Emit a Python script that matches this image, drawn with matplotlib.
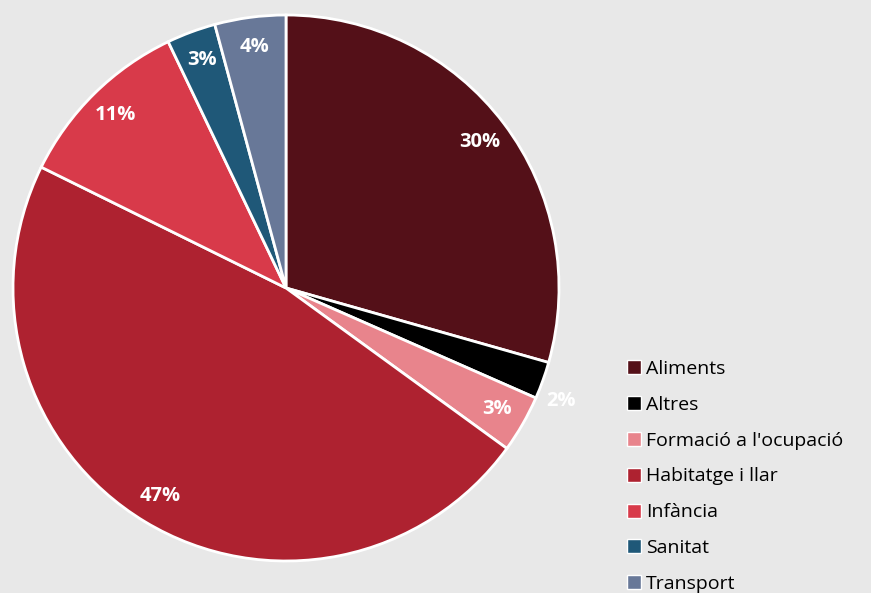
# Pie chart: distribució per àmbits
import numpy as np
import matplotlib.pyplot as plt
from matplotlib.lines import Line2D

categories = ['Aliments', 'Altres', "Formació a l'ocupació", 'Habitatge i llar',
              'Infància', 'Sanitat', 'Transport']
values = [29.4, 2.2, 3.4, 47.3, 10.6, 2.9, 4.2]
pct_labels = ['30%', '2%', '3%', '47%', '11%', '3%', '4%']
colors = ['#541018', '#000000', '#e8848c', '#ae2230', '#d83a4a', '#1f5878', '#687898']

plt.rcParams['font.family'] = ['Open Sans', 'DejaVu Sans']

W, H = 871, 593
fig = plt.figure(figsize=(W / 100, H / 100), dpi=100, facecolor='#e8e8e8')
ax = fig.add_axes([0, 0, 1, 1])
ax.set_facecolor('#e8e8e8')
ax.axis('off')

R = 273
cx, cy = 286, H - 288
wedges, texts, autotexts = ax.pie(
    values, colors=colors, startangle=90, counterclock=False,
    center=(cx, cy), radius=R, autopct='%.0f%%', pctdistance=0.89,
    wedgeprops=dict(edgecolor='white', linewidth=2),
    textprops=dict(color='white', fontsize=14.5, fontweight='bold'))
ax.set_xlim(0, W)
ax.set_ylim(0, H)
ax.set_aspect('equal')

for t, lab in zip(autotexts, pct_labels):
    t.set_text(lab)

# l'etiqueta petita d'"Altres" queda fora del sector
w = wedges[1]
ang = np.deg2rad((w.theta1 + w.theta2) / 2 - 2.5)
autotexts[1].set_position((cx + 1.09 * R * np.cos(ang), cy + 1.09 * R * np.sin(ang)))

handles = [Line2D([], [], marker='s', linestyle='', markersize=9.5,
                  markerfacecolor=c, markeredgecolor='white', markeredgewidth=1)
           for c in colors]
fig.legend(handles, categories, loc='upper left', bbox_to_anchor=(619 / W, 1 - 352 / H),
           frameon=False, fontsize=14, handlelength=0.7, handletextpad=0.3,
           labelspacing=0.92, borderaxespad=0)

fig.savefig('out.png', dpi=100, facecolor=fig.get_facecolor())
